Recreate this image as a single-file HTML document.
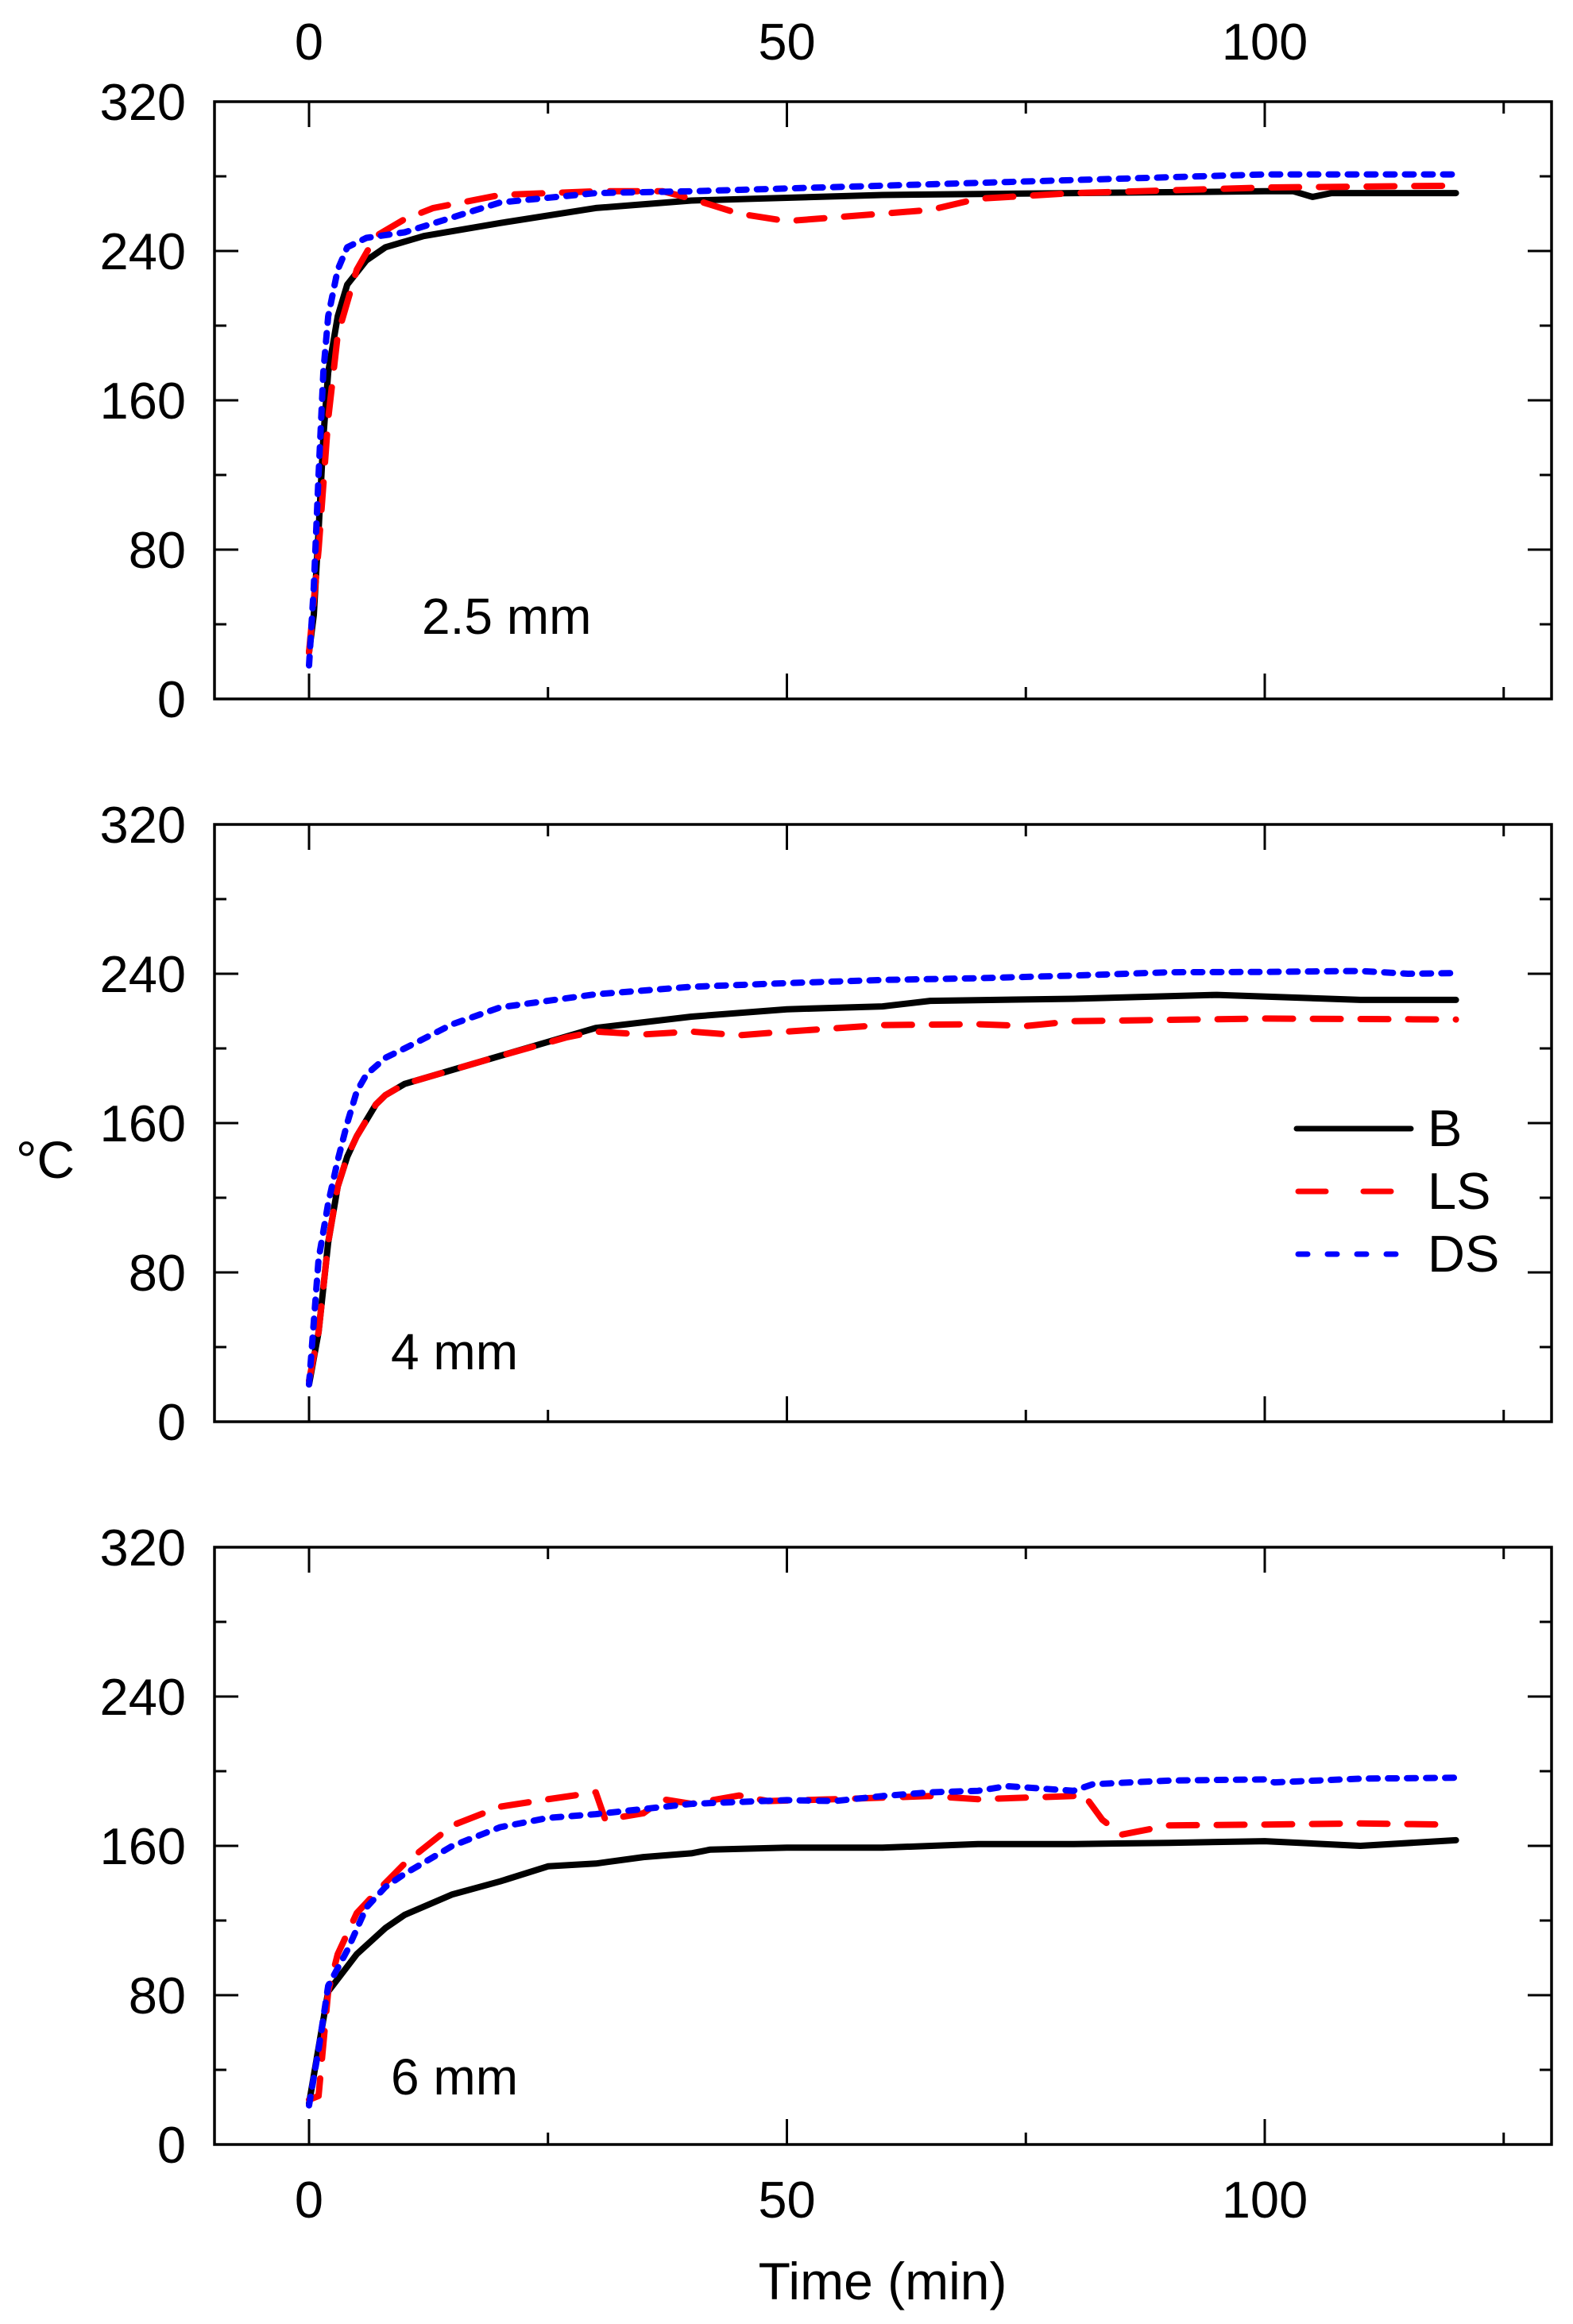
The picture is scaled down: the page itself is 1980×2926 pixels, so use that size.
<!DOCTYPE html>
<html><head><meta charset="utf-8"><style>
html,body{margin:0;padding:0;background:#fff;}
svg{display:block;}
text{font-family:"Liberation Sans",Arial,sans-serif;fill:#000;}
</style></head><body>
<svg id="s" width="1980" height="2926" viewBox="0 0 1980 2926" xmlns="http://www.w3.org/2000/svg">
<rect width="1980" height="2926" fill="#fff"/>
<text x="20" y="1483" font-size="66">°C</text>
<text x="1111" y="2895" font-size="66" text-anchor="middle">Time (min)</text>
<text x="531" y="798" font-size="64">2.5 mm</text>
<text x="492" y="1724" font-size="64">4 mm</text>
<text x="492" y="2637" font-size="64">6 mm</text>
<line x1="1632" y1="1421" x2="1776" y2="1421" stroke="#000" stroke-width="7" stroke-linecap="round"/>
<line x1="1634" y1="1500" x2="1776" y2="1500" stroke="#f00" stroke-width="7" stroke-linecap="round" stroke-dasharray="35 47"/>
<line x1="1634" y1="1579" x2="1776" y2="1579" stroke="#00f" stroke-width="7" stroke-linecap="round" stroke-dasharray="12 25"/>
<text x="1797" y="1443" font-size="65">B</text>
<text x="1797" y="1522" font-size="65">LS</text>
<text x="1797" y="1601" font-size="65">DS</text>
</svg>
<script>
var S=document.getElementById('s'),NS='http://www.w3.org/2000/svg';
function el(n,a,t){var e=document.createElementNS(NS,n);for(var k in a)e.setAttribute(k,a[k]);if(t!==undefined)e.textContent=t;S.appendChild(e);return e;}
var L=270,R=1953,X0=389,PX=12.03,H=752,PY=2.35;
var tops=[128,1038,1948];
function X(t){return X0+t*PX;}
var data=[
{B:[[0,25],[0.5,45],[1,90],[1.5,140],[2,175],[3,205],[4,222],[6,235],[8,242],[12,248],[20,255],[30,263],[40,267],[60,270],[80,271],[100,272],[103,272],[105,269],[107,271],[120,271]],
LS:[[0,25],[1,80],[2,150],[3,195],[5,230],[7,248],[10,257],[13,263],[20,270],[30,272],[37,272],[40,268],[45,260],[50,256],[55,258],[60,260],[65,262],[70,268],[80,271],[100,274],[120,275]],
DS:[[0,18],[0.5,60],[1,120],[1.5,175],[2,205],[3,230],[4,242],[6,247],[10,250],[15,258],[20,266],[30,271],[40,272],[60,275],[80,278],[100,281],[120,281]]},
{B:[[0,20],[1,48],[2,96],[3,126],[4,142],[5,153],[7,170],[8,175],[10,181],[20,196],[30,211],[40,217],[50,221],[60,222.5],[65,225.5],[80,226.6],[95,228.7],[110,226],[120,226]],
LS:[[0,22],[1,48],[2,96],[3,126],[4,142],[5,153],[7,170],[8,175],[10,181],[20,196],[27,206],[30,209],[35,207.5],[40,209],[45,207],[50,209],[60,212.5],[70,213],[75,212],[80,214.6],[100,216],[120,215.5]],
DS:[[0,20],[1,87],[2,117],[3,140],[4,160],[5,177],[6,186],[8,195],[10,200],[15,213],[20,222],[30,229],[40,233],[50,235],[60,236.7],[70,237.6],[80,239],[90,240.8],[100,241],[110,241.5],[115,240],[120,240.4]]},
{B:[[0,22],[2,82],[5,102],[8,116],[10,123],[15,134],[20,141],[25,149],[30,150.5],[35,154],[40,156],[42,158],[50,159],[60,159],[70,161],[80,161],[90,161.6],[100,162.5],[110,160],[120,163]],
LS:[[0,24],[1,26],[2,82],[3,102],[5,124],[7,135],[10,150.5],[15,171],[20,181],[25,185],[30,188.7],[31,174],[35,177.5],[37,185],[40,182.5],[45,187],[48,184],[55,185],[65,186.7],[70,185],[80,186.7],[81,188],[83,174],[85,166],[90,171],[100,171.4],[110,172],[119,171.4]],
DS:[[0,21],[1,51],[2,85],[4,104],[6,127],[8,138],[10,145],[15,160],[20,170],[25,175],[30,177],[40,182.5],[50,184.5],[55,184],[60,186.7],[65,188.7],[70,189.5],[73,192],[80,189.5],[82,193],[90,195],[100,195.6],[101,194],[110,196],[120,196.5]]}
];
var sty={B:{c:'#000',d:''},LS:{c:'#f00',d:'35 25'},DS:{c:'#00f',d:'11 13'}};
tops.forEach(function(top,i){
 var bot=top+H;
 function Y(v){return bot-v*PY;}
 ['B','LS','DS'].forEach(function(k){
  var p=data[i][k].map(function(q){return X(q[0]).toFixed(1)+','+Y(q[1]).toFixed(1);}).join(' ');
  var a={points:p,fill:'none',stroke:sty[k].c,'stroke-width':8,'stroke-linecap':'round','stroke-linejoin':'round'};
  if(sty[k].d)a['stroke-dasharray']=sty[k].d;
  el('polyline',a);
 });
 el('rect',{x:L,y:top,width:R-L,height:H,fill:'none',stroke:'#000','stroke-width':3.5});
 for(var v=0;v<=320;v+=40){
  var len=(v%80==0)?30:15,y=Y(v);
  el('line',{x1:L,y1:y,x2:L+len,y2:y,stroke:'#000','stroke-width':3});
  el('line',{x1:R,y1:y,x2:R-len,y2:y,stroke:'#000','stroke-width':3});
  if(v%80==0) el('text',{x:234,y:y+23,'font-size':65,'text-anchor':'end'},String(v));
 }
 for(var t=0;t<=125;t+=25){
  var len2=(t%50==0)?32:15,x=X(t);
  el('line',{x1:x,y1:top,x2:x,y2:top+len2,stroke:'#000','stroke-width':3});
  el('line',{x1:x,y1:bot,x2:x,y2:bot-len2,stroke:'#000','stroke-width':3});
 }
});
[0,50,100].forEach(function(t){
 el('text',{x:X(t),y:75,'font-size':65,'text-anchor':'middle'},String(t));
 el('text',{x:X(t),y:2792,'font-size':65,'text-anchor':'middle'},String(t));
});
</script>
</body></html>
